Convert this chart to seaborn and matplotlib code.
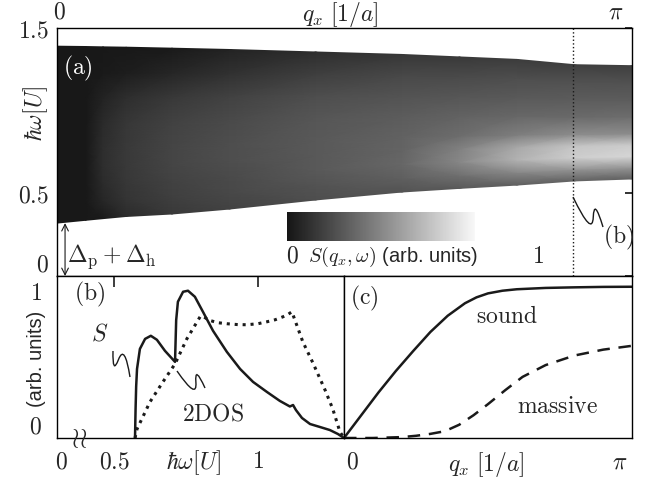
import numpy as np
import pandas as pd
import matplotlib
matplotlib.use('Agg')
import matplotlib.pyplot as plt
import seaborn as sns
from matplotlib.colors import LinearSegmentedColormap, Normalize
from matplotlib.path import Path
from matplotlib.patches import PathPatch

## ---------------- datos ----------------
# (a) banda de peso espectral, q en unidades de pi
q_cols = [0, 0.05, 0.08, 0.12, 0.2, 0.3, 0.45, 0.6, 0.7, 0.8, 0.9, 1.0]
omega_low = [0.32, 0.337, 0.347, 0.36, 0.375, 0.405, 0.46, 0.508, 0.53, 0.55, 0.575, 0.587]
omega_high = [1.39, 1.388, 1.386, 1.384, 1.378, 1.37, 1.355, 1.34, 1.325, 1.31, 1.278, 1.272]
band_frac = [0, 0.1, 0.2, 0.3, 0.4, 0.55, 0.7, 0.85, 1.0]
S_map = [
    [0.01, 0.01, 0.02, 0.08, 0.13, 0.16, 0.20, 0.22, 0.24, 0.26, 0.27, 0.27],
    [0.01, 0.01, 0.06, 0.11, 0.15, 0.18, 0.22, 0.26, 0.32, 0.40, 0.45, 0.45],
    [0.01, 0.01, 0.08, 0.12, 0.16, 0.19, 0.24, 0.29, 0.40, 0.55, 0.65, 0.68],
    [0.01, 0.01, 0.09, 0.13, 0.17, 0.20, 0.24, 0.28, 0.38, 0.52, 0.62, 0.64],
    [0.01, 0.01, 0.09, 0.13, 0.17, 0.20, 0.24, 0.27, 0.31, 0.37, 0.42, 0.42],
    [0.01, 0.01, 0.08, 0.12, 0.16, 0.19, 0.23, 0.25, 0.27, 0.29, 0.30, 0.31],
    [0.01, 0.01, 0.05, 0.09, 0.13, 0.16, 0.20, 0.22, 0.23, 0.24, 0.25, 0.25],
    [0.01, 0.01, 0.02, 0.03, 0.06, 0.10, 0.15, 0.18, 0.19, 0.20, 0.21, 0.21],
    [0.01, 0.01, 0.01, 0.01, 0.02, 0.05, 0.09, 0.12, 0.13, 0.14, 0.15, 0.15],
]
q_cut = 0.897  # corte de la figura (b)

# (b) S y 2DOS en q = q_cut
omega_S = [0.573, 0.575, 0.577, 0.580, 0.590, 0.608, 0.628, 0.649, 0.677, 0.712, 0.716,
           0.722, 0.740, 0.757, 0.781, 0.809, 0.844, 0.892, 0.938, 0.983, 1.031, 1.076,
           1.111, 1.122, 1.132, 1.153, 1.181, 1.215, 1.250, 1.278, 1.299]
S_vals = [0.0, 0.2, 0.35, 0.469, 0.605, 0.673, 0.694, 0.667, 0.592, 0.517, 0.80,
          0.925, 0.993, 1.0, 0.959, 0.857, 0.728, 0.585, 0.469, 0.381, 0.313, 0.252,
          0.214, 0.224, 0.190, 0.136, 0.095, 0.075, 0.054, 0.027, 0.0]
omega_dos = [0.573, 0.580, 0.625, 0.670, 0.712, 0.753, 0.799, 0.806, 0.83, 0.86, 0.892,
             0.93, 0.962, 1.0, 1.031, 1.06, 1.087, 1.105, 1.118, 1.156, 1.191, 1.233,
             1.260, 1.285, 1.299]
dos_vals = [0.0, 0.061, 0.245, 0.381, 0.503, 0.673, 0.823, 0.830, 0.80, 0.783, 0.776,
            0.77, 0.769, 0.776, 0.789, 0.803, 0.823, 0.84, 0.857, 0.653, 0.51, 0.327,
            0.197, 0.041, 0.0]

# (c) modos sound / massive
q_sound = [0, 0.06, 0.12, 0.18, 0.24, 0.30, 0.36, 0.42, 0.46, 0.50, 0.55, 0.6, 0.7, 0.8, 0.9, 1.0]
sound = [0, 0.155, 0.31, 0.455, 0.59, 0.72, 0.83, 0.915, 0.955, 0.982, 1.0, 1.01, 1.019, 1.023, 1.026, 1.027]
q_massive = [0, 0.1, 0.2, 0.25, 0.3, 0.35, 0.4, 0.45, 0.5, 0.56, 0.62, 0.7, 0.8, 0.9, 1.0]
massive = [0, 0.0, 0.006, 0.015, 0.028, 0.046, 0.09, 0.155, 0.23, 0.325, 0.415, 0.495, 0.56, 0.6, 0.626]

## ---------------- estilo ----------------
sns.set_theme(style='white')
plt.rcParams['font.family'] = ['Liberation Sans', 'DejaVu Sans']
plt.rcParams['mathtext.fontset'] = 'cm'
plt.rcParams['axes.edgecolor'] = 'black'
plt.rcParams['axes.linewidth'] = 1.0

W, H = 651, 481
fig = plt.figure(figsize=(W / 100, H / 100), dpi=100)

def px_box(x0, y0, x1, y1):
    return [x0 / W, 1 - y1 / H, (x1 - x0) / W, (y1 - y0) / H]

ax_a = fig.add_axes(px_box(57, 29, 632, 277))
ax_b = fig.add_axes(px_box(57, 277, 344, 439))
ax_c = fig.add_axes(px_box(344, 277, 632, 439))

fs = 17
fs_sans = 14.5

## ---------------- (a) mapa ----------------
gray = LinearSegmentedColormap.from_list('g', ['#151515', '#f8f8f8'])
low = np.array(omega_low)
high = np.array(omega_high)
frac = np.array(band_frac)
Q = np.tile(np.array(q_cols), (len(band_frac), 1))
Om = low[None, :] + frac[:, None] * (high - low)[None, :]
mesh = ax_a.pcolormesh(Q, Om, np.array(S_map), cmap=gray, norm=Normalize(0, 0.8),
                       shading='gouraud', rasterized=True)
ax_a.axvline(q_cut, color='k', ls=':', lw=1.0)
ax_a.set_xlim(0, 1)
ax_a.set_ylim(0, 1.5)
ax_a.xaxis.tick_top()
ax_a.set_xticks([0.005, 0.972], ['$0$', r'$\pi$'])
ax_a.set_yticks([0, 0.5, 1, 1.5], ['$0$', '$0.5$', '', '$1.5$'])
ax_a.tick_params(axis='x', length=0, pad=4, labelsize=fs)
ax_a.tick_params(axis='y', direction='in', length=5, right=True, pad=6, labelsize=fs, color='k')
ax_a.get_yticklabels()[0].set_va('bottom')
ax_a.text(0.492, 1.06, r'$q_x\ [1/a]$', transform=ax_a.transAxes, ha='center', va='center', fontsize=fs)
ax_a.text(-0.037, 0.66, r'$\hbar\omega[U]$', transform=ax_a.transAxes, rotation=90,
          ha='center', va='center', fontsize=fs)
ax_a.text(0.01, 0.84, r'$(\mathrm{a})$', transform=ax_a.transAxes, color='white',
          ha='left', va='center', fontsize=fs)
ax_a.annotate('', xy=(0.014, 0.0), xytext=(0.014, omega_low[0]),
              arrowprops=dict(arrowstyle='<->', lw=0.8, color='k', shrinkA=0, shrinkB=0))
ax_a.text(0.018, 0.125, r'$\Delta_\mathrm{p}+\Delta_\mathrm{h}$', ha='left', va='center', fontsize=fs)
ax_a.text(1.003, 0.16, r'$(\mathrm{b})$', transform=ax_a.transAxes, ha='right', va='center', fontsize=fs)

# barra de color
cax = fig.add_axes(px_box(287, 213, 475, 242))
cb = fig.colorbar(mesh, cax=cax, orientation='horizontal')
cb.outline.set_visible(False)
cb.set_ticks([])
fig.text(292 / W, 1 - 257 / H, '$0$', ha='center', va='center', fontsize=fs)
fig.text(308 / W, 1 - 257 / H, r'$S(q_x,\omega)$ (arb. units)', ha='left', va='center', fontsize=fs_sans)
fig.text(538 / W, 1 - 257 / H, '$1$', ha='center', va='center', fontsize=fs)

## ---------------- (b) corte ----------------
sns.lineplot(x=omega_S, y=S_vals, ax=ax_b, color='k', lw=1.8, sort=False, estimator=None)
sns.lineplot(x=omega_dos, y=dos_vals, ax=ax_b, color='k', lw=2.2, sort=False, estimator=None,
             linestyle=(0, (1, 1.6)))
ax_b.set_xlim(0.302, 1.299)
ax_b.set_ylim(0, 1.10)
ax_b.set_xticks([0.319, 0.5, 1], ['$0$', '$0.5$', '$1$'])
ax_b.set_yticks([0, 1], ['$0$', '$1$'])
ax_b.tick_params(axis='x', direction='in', length=8, top=True, pad=9, labelsize=fs)
ax_b.tick_params(axis='y', length=0, pad=11, labelsize=fs)
ax_b.get_yticklabels()[0].set_va('bottom')
t0 = ax_b.xaxis.get_major_ticks()[0]
t0.tick1line.set_visible(False)
t0.tick2line.set_visible(False)
ax_b.set_xlabel('')
ax_b.set_ylabel('')
ax_b.text(0.474, -0.148, r'$\hbar\omega[U]$', transform=ax_b.transAxes, ha='center', va='center', fontsize=fs)
ax_b.text(-0.07, 0.494, '(arb. units)', transform=ax_b.transAxes, rotation=90,
          ha='center', va='center', fontsize=fs_sans)
ax_b.text(0.06, 0.89, r'$(\mathrm{b})$', transform=ax_b.transAxes, ha='left', va='center', fontsize=fs)
ax_b.text(0.451, 0.707, '$S$', ha='center', va='center', fontsize=fs)
ax_b.text(0.844, 0.163, r'$\mathrm{2DOS}$', ha='center', va='center', fontsize=fs)
ax_b.text(0.378, 0.0, r'$\wr\!\wr$', ha='center', va='center', fontsize=20)

## ---------------- (c) dispersion ----------------
sns.lineplot(x=q_sound, y=sound, ax=ax_c, color='k', lw=1.8, sort=False, estimator=None)
sns.lineplot(x=q_massive, y=massive, ax=ax_c, color='k', lw=1.8, sort=False, estimator=None,
             linestyle=(0, (5, 3.5)))
ax_c.set_xlim(0, 1)
ax_c.set_ylim(0, 1.10)
ax_c.set_xticks([0.028, 0.958], ['$0$', r'$\pi$'])
ax_c.set_yticks([])
ax_c.tick_params(axis='x', length=0, pad=9, labelsize=fs)
ax_c.set_xlabel('')
ax_c.set_ylabel('')
ax_c.text(0.493, -0.16, r'$q_x\ [1/a]$', transform=ax_c.transAxes, ha='center', va='center', fontsize=fs)
ax_c.text(0.07, 0.87, r'$(\mathrm{c})$', transform=ax_c.transAxes, ha='center', va='center', fontsize=fs)
ax_c.text(0.566, 0.83, r'$\mathrm{sound}$', ha='center', va='center', fontsize=fs)
ax_c.text(0.74, 0.218, r'$\mathrm{massive}$', ha='center', va='center', fontsize=fs)

## ---------------- squiggles de anotacion (en pixeles) ----------------
def squiggle(p0, p1, w=0.3):
    p0 = np.array(p0, float)
    p1 = np.array(p1, float)
    d = p1 - p0
    n = np.array([-d[1], d[0]])
    a = p0 + 1.0 * d + w * n
    b = p0 + 0.35 * d - w * n
    m = (a + b) / 2
    verts = [p0, a, m, b, p1]
    codes = [Path.MOVETO, Path.CURVE3, Path.CURVE3, Path.CURVE3, Path.CURVE3]
    verts = [(v[0] / W, 1 - v[1] / H) for v in verts]
    fig.add_artist(PathPatch(Path(verts, codes), transform=fig.transFigure,
                             fill=False, edgecolor='k', lw=1.0))

squiggle((573, 198), (603, 228), w=0.35)
squiggle((130, 378), (113, 352), w=0.45)
squiggle((177, 372), (205, 389), w=0.45)

fig.savefig('out.png', dpi=100)
